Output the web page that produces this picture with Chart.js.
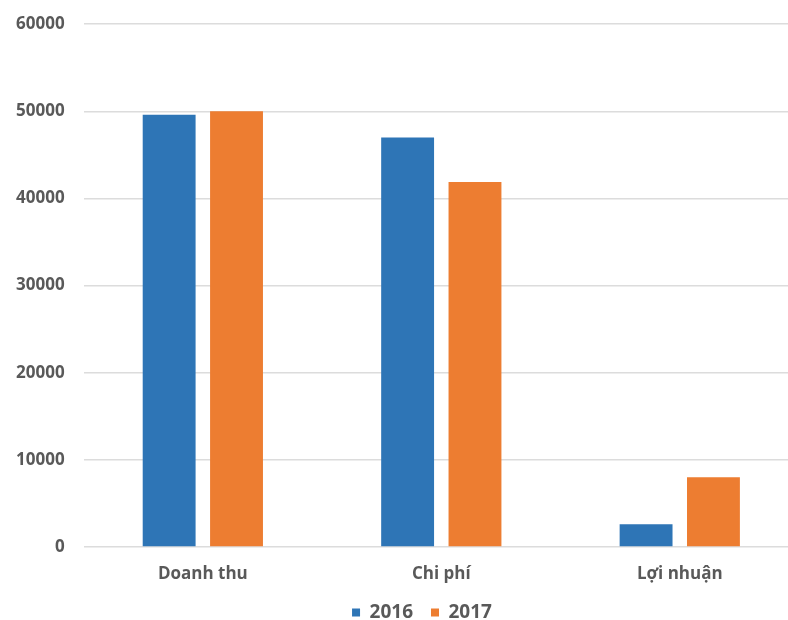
<!DOCTYPE html>
<html>
<head>
<meta charset="utf-8">
<script src="https://cdn.jsdelivr.net/npm/chart.js@4/dist/chart.umd.min.js"></script>
<style>
  html, body { margin: 0; padding: 0; background: #fff; overflow: hidden; }
  #wrap { width: 802px; height: 625px; margin-top: -5px; margin-left: -3px; }
</style>
</head>
<body>
<div id="wrap"><canvas id="chart"></canvas></div>
<script>
const categories = ["Doanh thu", "Chi phí", "Lợi nhuận"];
const years = ["2016", "2017"];
const values2016 = [49600, 47000, 2600];
const values2017 = [50000, 41900, 8000];
const yTicks = [0, 10000, 20000, 30000, 40000, 50000, 60000];

const textColor = "#595959";

// legend keeps its item gaps but gets a shorter box, and sits a bit right of centre
const legendTrim = {
    id: "legendTrim",
    beforeInit(chart) {
        const legend = chart.legend;
        const fit = legend.fit;
        legend.fit = function () {
            fit.call(this);
            this.height -= 12;
        };
        const draw = legend.draw;
        legend.draw = function () {
            const ctx = this.ctx;
            ctx.save();
            ctx.translate(24, 0);
            draw.call(this);
            ctx.restore();
        };
    },
};

new Chart(document.getElementById("chart"), {
    type: "bar",
    data: {
        labels: categories,
        datasets: [
            { label: years[0], data: values2016, backgroundColor: "#2E75B6" },
            { label: years[1], data: values2017, backgroundColor: "#ED7D31" },
        ],
    },
    plugins: [legendTrim],
    options: {
        responsive: true,
        maintainAspectRatio: false,
        animation: false,
        layout: { padding: { top: 0, right: 0, bottom: 0, left: 0 } },
        datasets: {
            bar: { categoryPercentage: 0.565, barPercentage: 0.785 },
        },
        scales: {
            x: {
                grid: { display: false, drawTicks: false },
                border: { display: false },
                afterFit: (s) => { s.height = 38; },
                ticks: {
                    color: textColor,
                    padding: 17,
                    font: { family: "Open Sans", size: 17, weight: "bold" },
                },
            },
            y: {
                min: 0,
                max: 60000,
                afterBuildTicks: (axis) => { axis.ticks = yTicks.map((v) => ({ value: v })); },
                grid: { color: "#dcdcdc", drawTicks: false, lineWidth: 1.5 },
                border: { display: false },
                ticks: {
                    color: textColor,
                    padding: 19,
                    callback: (v) => String(v),
                    font: { family: "Open Sans", size: 17, weight: "bold" },
                },
            },
        },
        plugins: {
            legend: {
                position: "bottom",
                labels: {
                    color: textColor,
                    boxWidth: 8,
                    boxHeight: 8,
                    padding: 18,
                    font: { family: "Open Sans", size: 19, weight: "bold" },
                },
            },
            tooltip: { enabled: false },
        },
    },
});
</script>
</body>
</html>
